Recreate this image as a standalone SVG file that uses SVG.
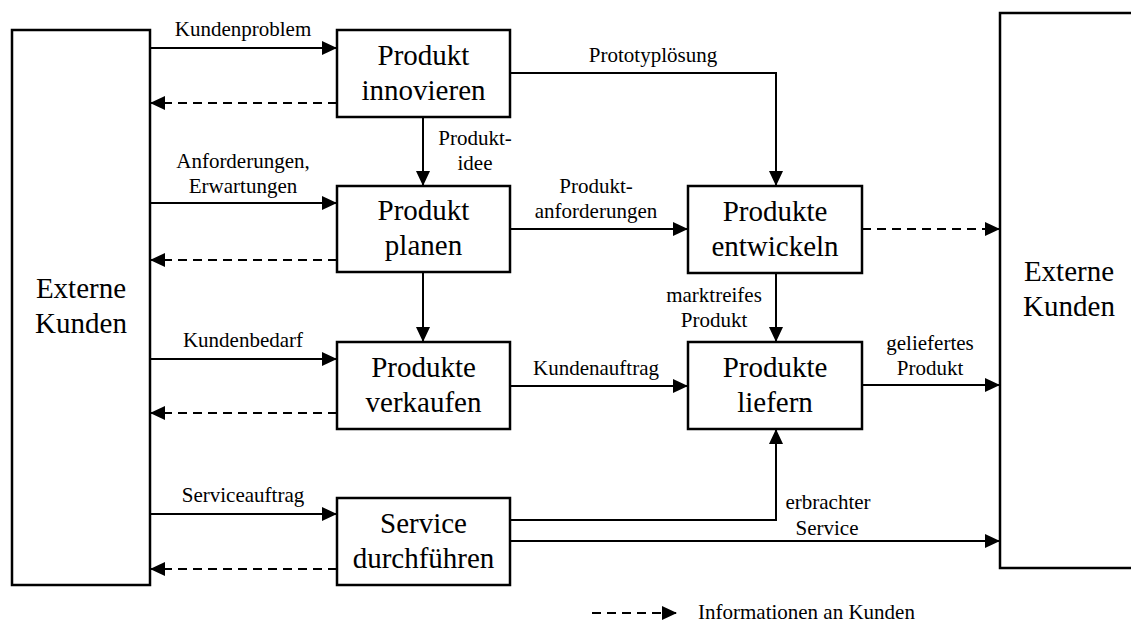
<svg xmlns="http://www.w3.org/2000/svg" width="1131" height="624" viewBox="0 0 1131 624">
  <defs>
    <marker id="head" markerUnits="userSpaceOnUse" markerWidth="16" markerHeight="14" refX="15" refY="7" orient="auto">
      <path d="M0,0 L15,7 L0,14 z" fill="#000"/>
    </marker>
    <style>
      .box { fill: #fff; stroke: #000; stroke-width: 2.5; }
      .node { font-family: "Liberation Serif", "Times New Roman", serif; font-size: 29px; text-anchor: middle; fill: #000; }
      .lbl { font-family: "Liberation Serif", "Times New Roman", serif; font-size: 21px; text-anchor: middle; fill: #000; }
      .flow { fill: none; stroke: #000; stroke-width: 2; marker-end: url(#head); }
      .info { fill: none; stroke: #000; stroke-width: 2; stroke-dasharray: 9 6; marker-end: url(#head); }
    </style>
  </defs>
  <rect width="1131" height="624" fill="#fff"/>

  <!-- connectors -->
  <g id="connectors">
    <!-- customer requests into the processes -->
    <path class="flow" d="M150,48 H337"/>
    <path class="flow" d="M150,203 H337"/>
    <path class="flow" d="M150,359 H337"/>
    <path class="flow" d="M150,514 H337"/>
    <!-- information back to the customer -->
    <path class="info" d="M337,103 H150"/>
    <path class="info" d="M337,260 H150"/>
    <path class="info" d="M337,413 H150"/>
    <path class="info" d="M337,569 H150"/>
    <!-- internal flows -->
    <path class="flow" d="M423,117 V186"/>
    <path class="flow" d="M423,272 V342"/>
    <path class="flow" d="M510,73 H776 V186"/>
    <path class="flow" d="M510,229 H688"/>
    <path class="info" d="M862,229 H1000"/>
    <path class="flow" d="M776,273 V342"/>
    <path class="flow" d="M510,386 H688"/>
    <path class="flow" d="M862,385 H1000"/>
    <path class="flow" d="M510,520 H776 V429"/>
    <path class="flow" d="M510,541 H1000"/>

    <!-- connector labels -->
    <text class="lbl" x="243" y="36">Kundenproblem</text>
    <text class="lbl" x="243" y="168">Anforderungen,</text>
    <text class="lbl" x="243" y="193">Erwartungen</text>
    <text class="lbl" x="243" y="347">Kundenbedarf</text>
    <text class="lbl" x="243" y="502">Serviceauftrag</text>
    <text class="lbl" x="653" y="62">Prototyplösung</text>
    <text class="lbl" x="475" y="145">Produkt-</text>
    <text class="lbl" x="475" y="170">idee</text>
    <text class="lbl" x="596" y="193">Produkt-</text>
    <text class="lbl" x="596" y="218">anforderungen</text>
    <text class="lbl" x="714" y="302">marktreifes</text>
    <text class="lbl" x="714" y="327">Produkt</text>
    <text class="lbl" x="596" y="375">Kundenauftrag</text>
    <text class="lbl" x="930" y="350">geliefertes</text>
    <text class="lbl" x="930" y="375">Produkt</text>
    <text class="lbl" x="828" y="509">erbrachter</text>
    <text class="lbl" x="827" y="535">Service</text>
  </g>

  <!-- external customers, left -->
  <g id="kunden-links">
    <rect class="box" x="12" y="30" width="138" height="555"/>
    <text class="node" x="81" y="298">Externe</text>
    <text class="node" x="81" y="333">Kunden</text>
  </g>

  <!-- external customers, right -->
  <g id="kunden-rechts">
    <rect class="box" x="1000" y="13" width="150" height="555"/>
    <text class="node" x="1069" y="281">Externe</text>
    <text class="node" x="1069" y="316">Kunden</text>
  </g>

  <g id="innovieren">
    <rect class="box" x="337" y="30" width="173" height="87"/>
    <text class="node" x="423.5" y="65">Produkt</text>
    <text class="node" x="423.5" y="100">innovieren</text>
  </g>

  <g id="planen">
    <rect class="box" x="337" y="186" width="173" height="86"/>
    <text class="node" x="423.5" y="220">Produkt</text>
    <text class="node" x="423.5" y="255">planen</text>
  </g>

  <g id="verkaufen">
    <rect class="box" x="337" y="342" width="173" height="87"/>
    <text class="node" x="423.5" y="377">Produkte</text>
    <text class="node" x="423.5" y="412">verkaufen</text>
  </g>

  <g id="service">
    <rect class="box" x="337" y="498" width="173" height="87"/>
    <text class="node" x="423.5" y="533">Service</text>
    <text class="node" x="423.5" y="568">durchführen</text>
  </g>

  <g id="entwickeln">
    <rect class="box" x="688" y="186" width="174" height="87"/>
    <text class="node" x="775" y="221">Produkte</text>
    <text class="node" x="775" y="256">entwickeln</text>
  </g>

  <g id="liefern">
    <rect class="box" x="688" y="342" width="174" height="87"/>
    <text class="node" x="775" y="377">Produkte</text>
    <text class="node" x="775" y="412">liefern</text>
  </g>

  <!-- legend -->
  <g id="legende">
    <path class="info" d="M592,613 H677"/>
    <text class="lbl" x="698" y="619" style="text-anchor:start">Informationen an Kunden</text>
  </g>
</svg>
